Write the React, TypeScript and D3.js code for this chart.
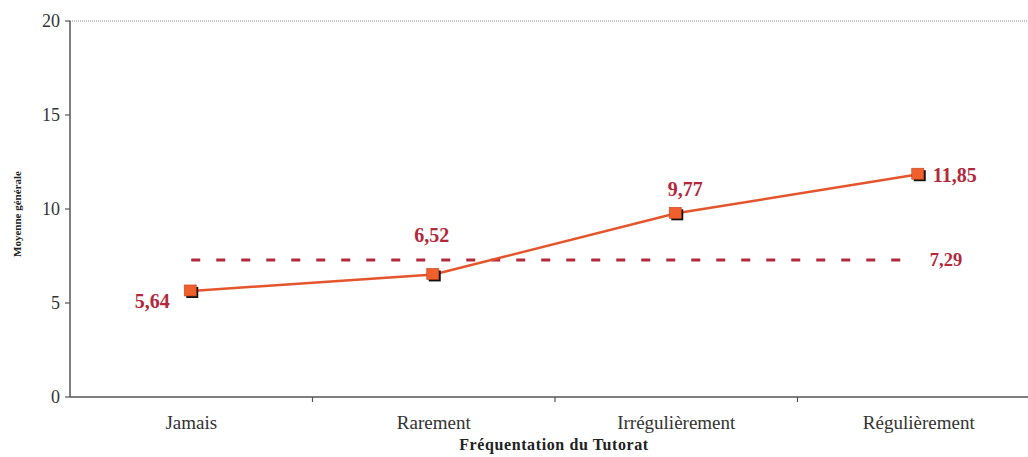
import React from "react";
import * as d3 from "d3";

const categories = ["Jamais", "Rarement", "Irrégulièrement", "Régulièrement"];
const values = [5.64, 6.52, 9.77, 11.85];
const valueLabels = ["5,64", "6,52", "9,77", "11,85"];
const meanValue = 7.29;
const meanLabel = "7,29";
const yTicks = [0, 5, 10, 15, 20];

const W = 1028;
const H = 457;
const left = 70;
const top = 21;
const bottom = 397;
const bandW = 242.5;

export default function App() {
  const x = d3
    .scaleBand<string>()
    .domain(categories)
    .range([left, left + bandW * categories.length])
    .paddingInner(0)
    .paddingOuter(0);
  const y = d3.scaleLinear().domain([0, 20]).range([bottom, top]);
  const cx = (c: string) => (x(c) as number) + x.bandwidth() / 2;

  const line = d3
    .line<number>()
    .x((_, i) => cx(categories[i]))
    .y((d) => y(d));

  const font = "'Liberation Serif', 'Times New Roman', serif";
  const red = "#b3283b";
  const lineColor = "#e4552c";
  const labelOffsets = [
    { dx: -39, dy: 10, anchor: "middle" },
    { dx: -2, dy: -39, anchor: "middle" },
    { dx: 9, dy: -24, anchor: "middle" },
    { dx: 14, dy: 1, anchor: "start" },
  ];

  return (
    <svg width={W} height={H} style={{ position: "absolute", left: 0, top: 0, background: "#fff" }} fontFamily={font}>
      {/* top gridline */}
      <line x1={left} x2={W} y1={y(20)} y2={y(20)} stroke="#8a8a8a" strokeWidth={1} strokeDasharray="1 1" />
      {/* y axis */}
      <line x1={left} x2={left} y1={top} y2={bottom} stroke="#555" strokeWidth={1.5} />
      {yTicks.map((t) => (
        <g key={t}>
          <line x1={left - 5} x2={left} y1={y(t)} y2={y(t)} stroke="#555" strokeWidth={1.2} />
          <text x={left - 10} y={y(t)} dy="0.35em" textAnchor="end" fontSize={18} fill="#333">
            {t}
          </text>
        </g>
      ))}
      {/* x axis */}
      <line x1={left} x2={W} y1={bottom} y2={bottom} stroke="#555" strokeWidth={1.5} />
      {categories.map((c, i) => (
        <g key={c}>
          {i > 0 && (
            <line x1={x(c) as number} x2={x(c) as number} y1={bottom} y2={bottom + 5} stroke="#555" strokeWidth={1.2} />
          )}
          <text x={cx(c)} y={429} textAnchor="middle" fontSize={19} fill="#333">
            {c}
          </text>
        </g>
      ))}
      {/* axis titles */}
      <text x={554} y={450} textAnchor="middle" fontSize={16} fontWeight="bold" letterSpacing={0.6} fill="#222">
        Fréquentation du Tutorat
      </text>
      <text
        transform={`translate(21, 214) rotate(-90)`}
        textAnchor="middle"
        fontSize={11}
        fontWeight="bold"
        fill="#222"
      >
        Moyenne générale
      </text>
      {/* mean dashed line */}
      <line
        x1={cx(categories[0])}
        x2={cx(categories[3]) - 6}
        y1={y(meanValue)}
        y2={y(meanValue)}
        stroke={red}
        strokeWidth={3}
        strokeDasharray="9 16"
      />
      <text x={cx(categories[3]) + 11} y={y(meanValue)} dy="0.35em" fontSize={18.5} fontWeight="bold" fill={red}>
        {meanLabel}
      </text>
      {/* series line */}
      <path d={line(values) || ""} fill="none" stroke={lineColor} strokeWidth={2.5} />
      {values.map((v, i) => (
        <g key={i}>
          <rect x={cx(categories[i]) - 5} y={y(v) - 4} width={12} height={11} fill="#111" />
          <rect x={cx(categories[i]) - 7} y={y(v) - 6} width={12} height={11} fill="#f0602c" stroke="#c8401a" strokeWidth={0.6} />
          <text
            x={cx(categories[i]) + labelOffsets[i].dx}
            y={y(v) + labelOffsets[i].dy}
            dy="0.35em"
            textAnchor={labelOffsets[i].anchor}
            fontSize={20}
            fontWeight="bold"
            fill={red}
          >
            {valueLabels[i]}
          </text>
        </g>
      ))}
    </svg>
  );
}
